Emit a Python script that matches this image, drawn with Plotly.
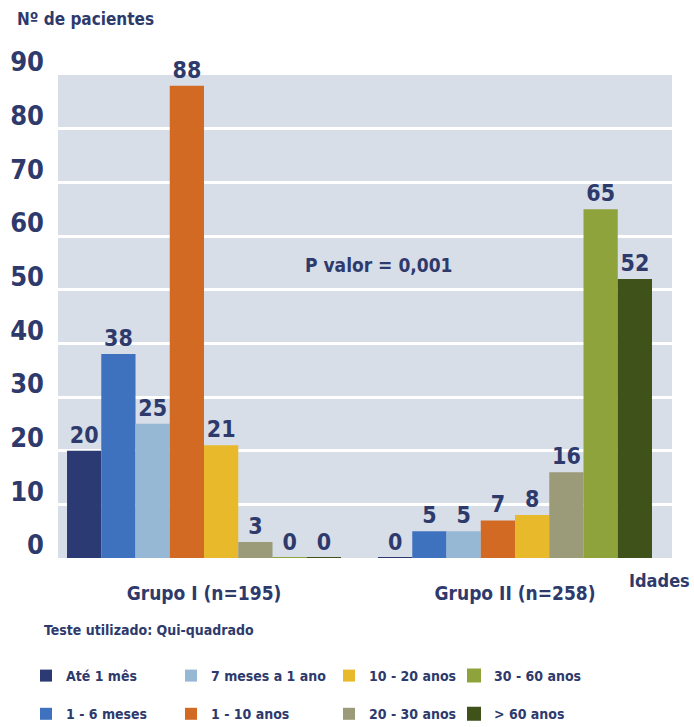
import plotly.graph_objects as go

# Patient counts per age band, for each study group
grupos = ["Grupo I (n=195)", "Grupo II (n=258)"]
faixas = ["Até 1 mês", "1 - 6 meses", "7 meses a 1 ano", "1 - 10 anos",
          "10 - 20 anos", "20 - 30 anos", "30 - 60 anos", "> 60 anos"]
grupo_i = [20, 38, 25, 88, 21, 3, 0, 0]
grupo_ii = [0, 5, 5, 7, 8, 16, 65, 52]
y_ticks = [0, 10, 20, 30, 40, 50, 60, 70, 80, 90]

cores = ["#2c3a74", "#3e72bf", "#97b8d5", "#d36a24",
         "#e9b92c", "#9b9a79", "#8ea33b", "#3f5219"]

NAVY = "#2e3a6c"
FONT = "Liberation Sans Narrow, DejaVu Sans Condensed, Arial Narrow, sans-serif"

W, H = 694, 727
L, R, T, B = 58, 672, 75, 558   # plot-area edges in pixels


def px(xp):
    return (xp - L) / (R - L)


def py(yp):
    return (B - yp) / (B - T)


fig = go.Figure()
x_pos = [0, 1]
for i, nome in enumerate(faixas):
    vals = [grupo_i[i], grupo_ii[i]]
    fig.add_trace(go.Bar(
        x=x_pos, y=vals, name=nome,
        marker=dict(color=cores[i],
                    line=dict(color=cores[i], width=[2 if v == 0 else 0 for v in vals])),
        text=[str(v) for v in vals], textposition="outside",
        textfont=dict(family=FONT, size=23, color=NAVY, weight="bold"),
        cliponaxis=False,
        legend=["legend", "legend2", "legend3", "legend4"][i // 2],
        legendgroup=nome,
        hoverinfo="skip",
    ))

# legend columns (symbol-centre x in pixels)
col_x = [46, 191, 349, 474]
legend_common = dict(
    orientation="v", traceorder="grouped", tracegroupgap=17,
    bgcolor="rgba(0,0,0,0)", yanchor="top", xanchor="left",
    font=dict(family=FONT, size=14, color=NAVY, weight="bold"),
    itemclick=False, itemdoubleclick=False,
)
legends = {}
for k, cx in enumerate(col_x):
    key = "legend" if k == 0 else f"legend{k+1}"
    legends[key] = dict(legend_common, x=px(cx - 20), y=py(660))

fig.update_layout(
    width=W, height=H,
    margin=dict(l=L, r=W - R, t=T, b=H - B, pad=0, autoexpand=False),
    paper_bgcolor="white", plot_bgcolor="#d7dee8",
    barmode="group", bargap=0.119, bargroupgap=0,
    font=dict(family=FONT, color=NAVY),
    showlegend=True,
    **legends,
)

fig.update_xaxes(
    range=[-0.4695, 1.5048], tickvals=x_pos, ticktext=grupos,
    showgrid=False, zeroline=False, showline=False, ticks="",
    ticklabelstandoff=22,
    tickfont=dict(family=FONT, size=19, color=NAVY, weight="bold"),
)
fig.update_yaxes(
    range=[0, 90], tickvals=y_ticks, showgrid=True, gridcolor="white",
    gridwidth=3, zeroline=False, showline=False, ticks="",
    ticklabelshift=-13, ticklabelstandoff=13,
    tickfont=dict(family=FONT, size=27, color=NAVY, weight="bold"),
)

annots = [
    dict(text="Nº de pacientes", x=px(15), y=py(19), xanchor="left", yanchor="middle",
         font=dict(size=17)),
    dict(text="P valor = 0,001", x=px(378), y=py(265), xanchor="center", yanchor="middle",
         font=dict(size=19)),
    dict(text="Idades", x=px(692), y=py(580), xanchor="right", yanchor="middle",
         font=dict(size=18)),
    dict(text="Teste utilizado: Qui-quadrado", x=px(42), y=py(630), xanchor="left",
         yanchor="middle", font=dict(size=14)),
]
for a in annots:
    a["font"].update(family=FONT, color=NAVY, weight="bold")
    fig.add_annotation(xref="paper", yref="paper", showarrow=False, **a)

fig.write_html("out.html")
